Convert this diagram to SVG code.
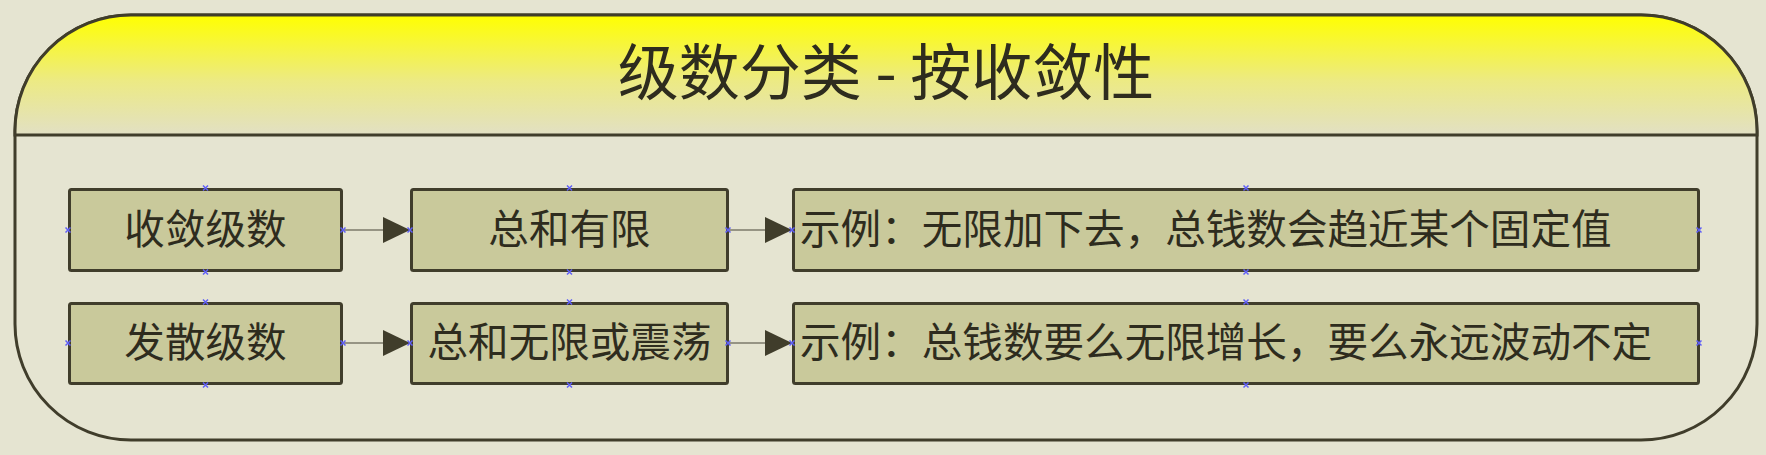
<svg xmlns="http://www.w3.org/2000/svg" width="1766" height="455" viewBox="0 0 1766 455">
<defs>
<linearGradient id="hdr" x1="0" y1="0" x2="0" y2="1">
<stop offset="0" stop-color="#ffff00"/>
<stop offset="0.55" stop-color="#ecea84"/>
<stop offset="1" stop-color="#e2e0c4"/>
</linearGradient>
<marker id="arr" markerUnits="userSpaceOnUse" markerWidth="28" markerHeight="28" refX="27" refY="13" orient="auto" viewBox="0 0 28 26">
<path d="M0,0 L27,13 L0,26 Z" fill="#403d2b"/>
</marker>
<path id="xm" d="M-2.5,-2.5 L2.5,2.5 M-2.5,2.5 L2.5,-2.5"/>
</defs>
<style>
.box{fill:#c9c99b;stroke:#403d2b;stroke-width:3}
.t{font-family:"Noto Sans CJK SC","Noto Sans CJK JP",sans-serif;font-size:40.6px;fill:#2e2c1e}
.c{text-anchor:middle}
.conn{stroke:#7b7a6a;stroke-width:1.6;fill:none}
.mk use{stroke:#5f5ff8;stroke-width:1.5}
</style>
<rect x="0" y="0" width="1766" height="455" fill="#e5e4d1"/>
<g id="frame">
<rect x="15" y="15" width="1742" height="425" rx="116" ry="116" fill="#e5e4d1" stroke="#403d2b" stroke-width="3"/>
<path d="M15,135 L15,131 A116,116 0 0 1 131,15 L1641,15 A116,116 0 0 1 1757,131 L1757,135 Z" fill="url(#hdr)" stroke="#403d2b" stroke-width="3"/>
<text x="886" y="95" class="t c" style="font-size:61px">级数分类 - 按收敛性</text>
</g>
<g id="n1"><rect class="box" x="69.5" y="189.5" width="272" height="81" rx="2"/><text class="t c" x="205.5" y="243.5">收敛级数</text></g>
<g id="n2"><rect class="box" x="411.5" y="189.5" width="316" height="81" rx="2"/><text class="t c" x="569.5" y="243.5">总和有限</text></g>
<g id="n3"><rect class="box" x="793.5" y="189.5" width="905" height="81" rx="2"/><text class="t" x="800" y="243.5">示例：无限加下去，总钱数会趋近某个固定值</text></g>
<g id="n4"><rect class="box" x="69.5" y="303.5" width="272" height="80" rx="2"/><text class="t c" x="205.5" y="357">发散级数</text></g>
<g id="n5"><rect class="box" x="411.5" y="303.5" width="316" height="80" rx="2"/><text class="t c" x="569.5" y="357">总和无限或震荡</text></g>
<g id="n6"><rect class="box" x="793.5" y="303.5" width="905" height="80" rx="2"/><text class="t" x="800" y="357">示例：总钱数要么无限增长，要么永远波动不定</text></g>
<g id="connectors">
<path class="conn" d="M343,230 L410,230" marker-end="url(#arr)"/>
<path class="conn" d="M729,230 L792,230" marker-end="url(#arr)"/>
<path class="conn" d="M343,343 L410,343" marker-end="url(#arr)"/>
<path class="conn" d="M729,343 L792,343" marker-end="url(#arr)"/>
</g>
<g class="mk">
<use href="#xm" x="205.5" y="188"/><use href="#xm" x="205.5" y="272"/><use href="#xm" x="68" y="230"/><use href="#xm" x="343" y="230"/>
<use href="#xm" x="569.5" y="188"/><use href="#xm" x="569.5" y="272"/><use href="#xm" x="410" y="230"/><use href="#xm" x="728" y="230"/>
<use href="#xm" x="1246" y="188"/><use href="#xm" x="1246" y="272"/><use href="#xm" x="792" y="230"/><use href="#xm" x="1699" y="230"/>
<use href="#xm" x="205.5" y="302"/><use href="#xm" x="205.5" y="385"/><use href="#xm" x="68" y="343"/><use href="#xm" x="343" y="343"/>
<use href="#xm" x="569.5" y="302"/><use href="#xm" x="569.5" y="385"/><use href="#xm" x="410" y="343"/><use href="#xm" x="728" y="343"/>
<use href="#xm" x="1246" y="302"/><use href="#xm" x="1246" y="385"/><use href="#xm" x="792" y="343"/><use href="#xm" x="1699" y="343"/>
</g>
</svg>
